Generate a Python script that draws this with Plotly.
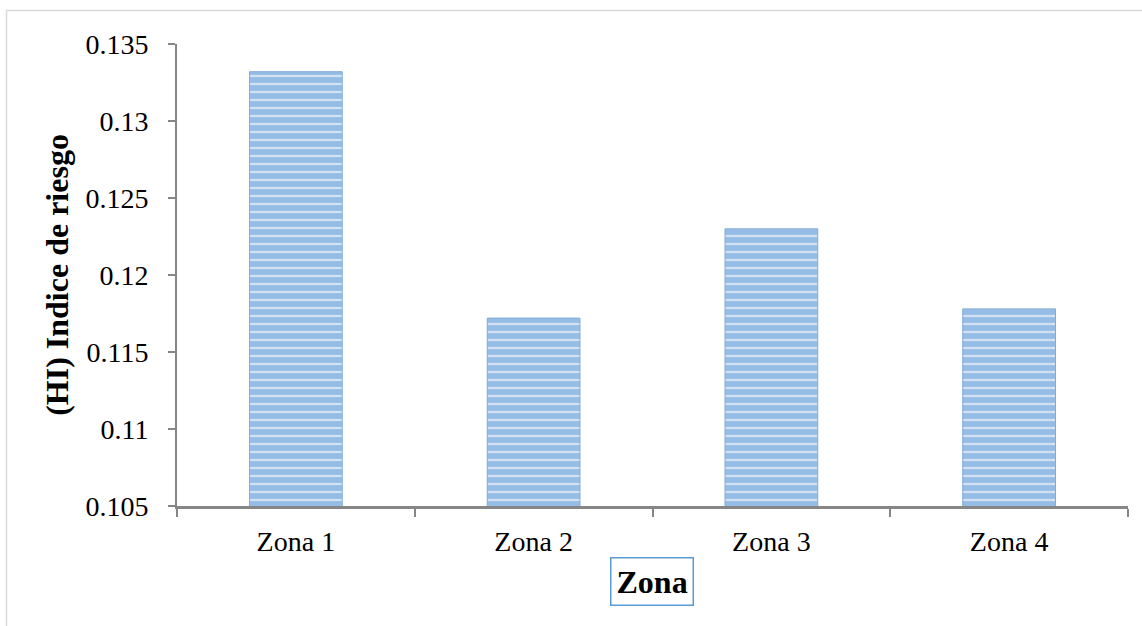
import plotly.graph_objects as go

# Hazard index by zone
zonas = ["Zona 1", "Zona 2", "Zona 3", "Zona 4"]
indice_hi = [0.1332, 0.1172, 0.1230, 0.1178]
y_ticks = [0.105, 0.11, 0.115, 0.12, 0.125, 0.13, 0.135]
y_tick_text = ["0.105", "0.11", "0.115", "0.12", "0.125", "0.13", "0.135"]

W, H = 1142, 626
ML, MR, MT, MB = 177, 14, 44, 120
PW, PH = W - ML - MR, H - MT - MB

serif = "Liberation Serif, Times New Roman, serif"
axis_grey = "#868686"

fig = go.Figure()
fig.add_trace(go.Bar(
    x=zonas,
    y=indice_hi,
    base=0,
    width=0.39,
    marker=dict(
        color="#cfe0f3",
        line=dict(color="#7fabdb", width=1),
        pattern=dict(shape="-", fgcolor="#5896d3", bgcolor="#d2e2f4",
                     size=8, solidity=0.72, fillmode="overlay"),
    ),
    hoverinfo="x+y",
))

# Outer chart frame (paper coordinates derived from pixel layout)
def px_x(p):
    return (p - ML) / PW

def px_y(p):
    return (H - MB - p) / PH

fig.add_shape(type="rect", xref="paper", yref="paper",
              x0=px_x(6.5), x1=px_x(1160), y0=px_y(10.5), y1=px_y(660),
              line=dict(color="#d9d9d9", width=1.5), layer="below")

# Boxed x-axis title
fig.add_annotation(text="<b>Zona</b>", xref="paper", yref="paper",
                   x=px_x(651.5), y=px_y(581.5), xanchor="center", yanchor="middle",
                   showarrow=False,
                   font=dict(family=serif, size=32, color="black"),
                   bordercolor="#5b9bd5", borderwidth=1.5, borderpad=5,
                   bgcolor="white")

fig.update_layout(
    width=W, height=H,
    margin=dict(l=ML, r=MR, t=MT, b=MB),
    paper_bgcolor="white",
    plot_bgcolor="white",
    showlegend=False,
    font=dict(family=serif, size=28, color="black"),
    xaxis=dict(
        showline=True, linecolor=axis_grey, linewidth=2.5,
        ticks="outside", ticklen=8, tickwidth=2, tickcolor=axis_grey,
        tickson="boundaries", ticklabelstandoff=9,
        showgrid=False, zeroline=False,
        tickfont=dict(family=serif, size=28, color="black"),
    ),
    yaxis=dict(
        range=[0.105, 0.135],
        tickvals=y_ticks, ticktext=y_tick_text,
        showline=True, linecolor=axis_grey, linewidth=2,
        ticks="outside", ticklen=7, tickwidth=2, tickcolor=axis_grey,
        ticklabelstandoff=14,
        showgrid=False, zeroline=False,
        tickfont=dict(family=serif, size=28, color="black"),
        title=dict(text="<b>(HI) Indice de riesgo</b>",
                   font=dict(family=serif, size=32, color="black"),
                   standoff=7),
    ),
)

fig.write_html("out.html")
